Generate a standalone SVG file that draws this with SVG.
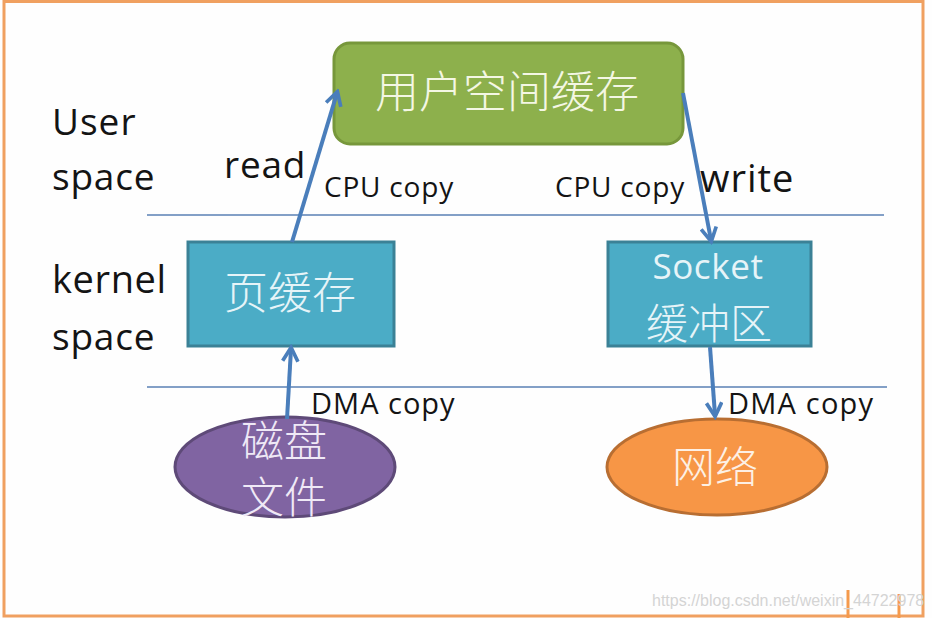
<svg xmlns="http://www.w3.org/2000/svg" width="932" height="618" viewBox="0 0 932 618">
<defs>
<style>
.lbl{font-family:"Open Sans","Liberation Sans",sans-serif;fill:#141414}
.cjk{font-family:"Noto Sans CJK SC","Noto Sans",sans-serif;font-weight:300;text-anchor:middle}
.sep{stroke:#5A80B4;stroke-width:1.5}
.conn{stroke:#4A7EBB;stroke-width:4;fill:none;marker-end:url(#ah)}
</style>
<marker id="ah" viewBox="0 0 12 12" refX="9" refY="6" markerWidth="4.6" markerHeight="4.6" orient="auto" markerUnits="strokeWidth">
<path d="M1,1 L10,6 L1,11" fill="none" stroke="#4A7EBB" stroke-width="2.4" stroke-linejoin="miter"/>
</marker>
</defs>
<rect x="0" y="0" width="932" height="618" fill="#FEFEFE"/>
<rect x="4" y="1.5" width="919" height="614.5" fill="none" stroke="#F0A060" stroke-width="3"/>
<line x1="848" y1="590" x2="848" y2="618" stroke="#F59A4C" stroke-width="3"/>
<line x1="899" y1="594" x2="899" y2="618" stroke="#F59A4C" stroke-width="3"/>

<line class="sep" x1="147" y1="215" x2="884" y2="215"/>
<line class="sep" x1="147" y1="387" x2="887" y2="387"/>

<text class="lbl" x="52" y="135" font-size="37" letter-spacing="1">User</text>
<text class="lbl" x="52" y="190" font-size="37" letter-spacing="0.8">space</text>
<text class="lbl" x="52" y="293" font-size="38" letter-spacing="0.6">kernel</text>
<text class="lbl" x="52" y="350" font-size="37" letter-spacing="0.8">space</text>
<text class="lbl" x="224" y="178" font-size="37" letter-spacing="0.8">read</text>
<text class="lbl" x="700" y="192" font-size="38" letter-spacing="1">write</text>
<text class="lbl" x="324" y="197" font-size="28" letter-spacing="0.8">CPU copy</text>
<text class="lbl" x="555" y="197" font-size="28" letter-spacing="0.8">CPU copy</text>
<text class="lbl" x="311" y="414" font-size="29" letter-spacing="1">DMA copy</text>
<text class="lbl" x="728" y="414" font-size="29" letter-spacing="1.2">DMA copy</text>

<g id="user-buffer">
<rect x="334" y="43" width="349" height="101" rx="16" fill="#8DB04C" stroke="#77973B" stroke-width="3"/>
<text class="cjk" x="507" y="108" font-size="44" fill="#F4F7E4">用户空间缓存</text>
</g>
<g id="page-cache">
<rect x="188" y="242" width="206" height="104" fill="#4BACC6" stroke="#3B8196" stroke-width="3"/>
<text class="cjk" x="290" y="309" font-size="44" fill="#E6F4F8">页缓存</text>
</g>
<g id="socket-buffer">
<rect x="608" y="242" width="203" height="104" fill="#4BACC6" stroke="#3B8196" stroke-width="3"/>
<text x="708" y="279" font-size="35" fill="#E6F4F8" text-anchor="middle" font-family="Open Sans, Liberation Sans, sans-serif" letter-spacing="0.6">Socket</text>
<text class="cjk" x="709" y="339" font-size="42" fill="#E6F4F8">缓冲区</text>
</g>
<g id="disk-file">
<ellipse cx="285" cy="467" rx="110" ry="50" fill="#8064A2" stroke="#5E4A78" stroke-width="3"/>
<text class="cjk" x="284" y="457" font-size="43" fill="#EFE9F6">磁盘</text>
<text class="cjk" x="284" y="513" font-size="43" fill="#EFE9F6">文件</text>
</g>
<g id="network">
<ellipse cx="717" cy="467" rx="110" ry="48" fill="#F79646" stroke="#B86E32" stroke-width="3"/>
<text class="cjk" x="715" y="483" font-size="43" fill="#FDF0E4">网络</text>
</g>

<g id="connectors">
<line class="conn" x1="292" y1="242" x2="337" y2="93"/>
<line class="conn" x1="683" y1="93" x2="711" y2="240"/>
<line class="conn" x1="287" y1="419" x2="291" y2="349"/>
<line class="conn" x1="710" y1="347" x2="715" y2="415"/>
</g>

<text x="652" y="606" font-size="16" fill="#D4D4D4" font-family="Liberation Sans, Arial, sans-serif">https://blog.csdn.net/weixin_44722978</text>
</svg>
